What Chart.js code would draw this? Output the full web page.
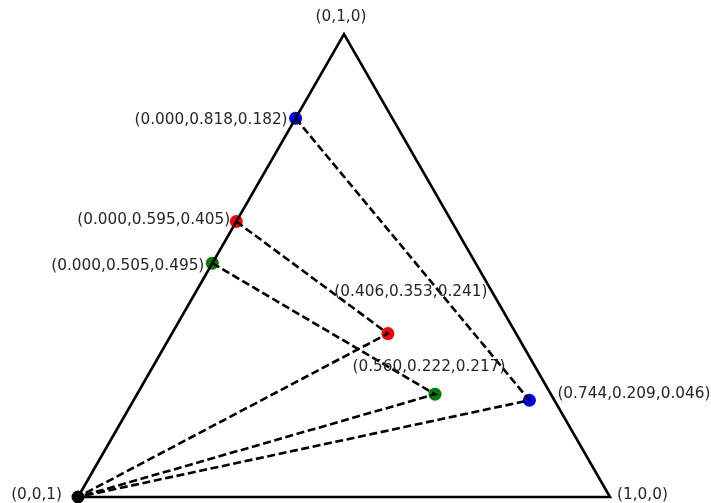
<!DOCTYPE html>
<html>
<head>
<meta charset="utf-8">
<script src="https://cdn.jsdelivr.net/npm/chart.js@4"></script>
<style>
  html, body { margin: 0; padding: 0; background: #fff; }
  canvas { display: block; }
</style>
</head>
<body>
<canvas id="chart" width="711" height="503"></canvas>
<script>
'use strict'

// ternary values (a, b, c): a -> right corner, b -> top, c -> left corner
let cornerNames = ['(1,0,0)', '(0,1,0)', '(0,0,1)'];
let corners = [[1, 0, 0], [0, 1, 0], [0, 0, 1]];
let seriesColors = ['red', 'green', 'blue'];
let edgePoints = [[0.000, 0.595, 0.405], [0.000, 0.505, 0.495], [0.000, 0.818, 0.182]];
let innerPoints = [[0.406, 0.353, 0.241], [0.560, 0.222, 0.217], [0.744, 0.209, 0.046]];

function toXY(p) {
    return { x: p[0] + p[1] / 2, y: p[1] * Math.sqrt(3) / 2 };
}

function fmt(p) {
    return '(' + p.map(v => v.toFixed(3)).join(',') + ')';
}

let origin = toXY(corners[2]);

let datasets = [];

// triangle outline
datasets.push({
    data: [toXY(corners[2]), toXY(corners[0]), toXY(corners[1]), toXY(corners[2])],
    showLine: true,
    borderColor: '#000',
    borderWidth: 2.6,
    pointRadius: 0,
    borderJoinStyle: 'miter'
});

// dashed paths edge -> inner -> (0,0,1)
for (let i = 0; i < seriesColors.length; i++) {
    datasets.push({
        data: [toXY(edgePoints[i]), toXY(innerPoints[i]), origin],
        showLine: true,
        borderColor: '#000',
        borderWidth: 2.6,
        borderDash: [8, 3.6],
        pointRadius: 0
    });
}

// markers
for (let i = 0; i < seriesColors.length; i++) {
    datasets.push({
        data: [toXY(edgePoints[i]), toXY(innerPoints[i])],
        pointRadius: 6.5,
        pointBackgroundColor: seriesColors[i],
        pointBorderWidth: 0,
        borderColor: seriesColors[i]
    });
}
datasets.push({
    data: [origin],
    pointRadius: 6.5,
    pointBackgroundColor: '#000',
    pointBorderWidth: 0
});

// label text, anchored on a value, shifted by a few pixels
let labelOffsets = {
    corner: [[7, -2, 'left'], [-3, -17, 'center'], [-16, -2, 'right']],
    edge: [[-6, -2, 'right'], [-8, 3, 'right'], [-8, 2, 'right']],
    inner: [[23, -42, 'center'], [-6, -27, 'center'], [28, -6, 'left']]
};

let labelPlugin = {
    id: 'ternaryLabels',
    afterDatasetsDraw(chart) {
        let ctx = chart.ctx;
        let xs = chart.scales.x;
        let ys = chart.scales.y;
        ctx.save();
        ctx.font = '15.3px "DejaVu Sans"';
        ctx.fillStyle = '#262626';
        ctx.textBaseline = 'middle';
        function put(p, text, off) {
            let q = toXY(p);
            ctx.textAlign = off[2];
            ctx.fillText(text, xs.getPixelForValue(q.x) + off[0], ys.getPixelForValue(q.y) + off[1]);
        }
        for (let i = 0; i < corners.length; i++) put(corners[i], cornerNames[i], labelOffsets.corner[i]);
        for (let i = 0; i < edgePoints.length; i++) put(edgePoints[i], fmt(edgePoints[i]), labelOffsets.edge[i]);
        for (let i = 0; i < innerPoints.length; i++) put(innerPoints[i], fmt(innerPoints[i]), labelOffsets.inner[i]);
        ctx.restore();
    }
};

let ctx = document.getElementById('chart').getContext('2d');
let myChart = new Chart(ctx, {
    type: 'scatter',
    data: { datasets: datasets },
    options: {
        responsive: false,
        animation: false,
        devicePixelRatio: 1,
        layout: { padding: 0, autoPadding: false },
        plugins: {
            legend: { display: false },
            tooltip: { enabled: false }
        },
        scales: {
            x: { type: 'linear', display: false, min: -0.14662, max: 1.18985 },
            y: { type: 'linear', display: false, min: -0.011223, max: 0.929667 }
        }
    },
    plugins: [labelPlugin]
});
</script>
</body>
</html>
